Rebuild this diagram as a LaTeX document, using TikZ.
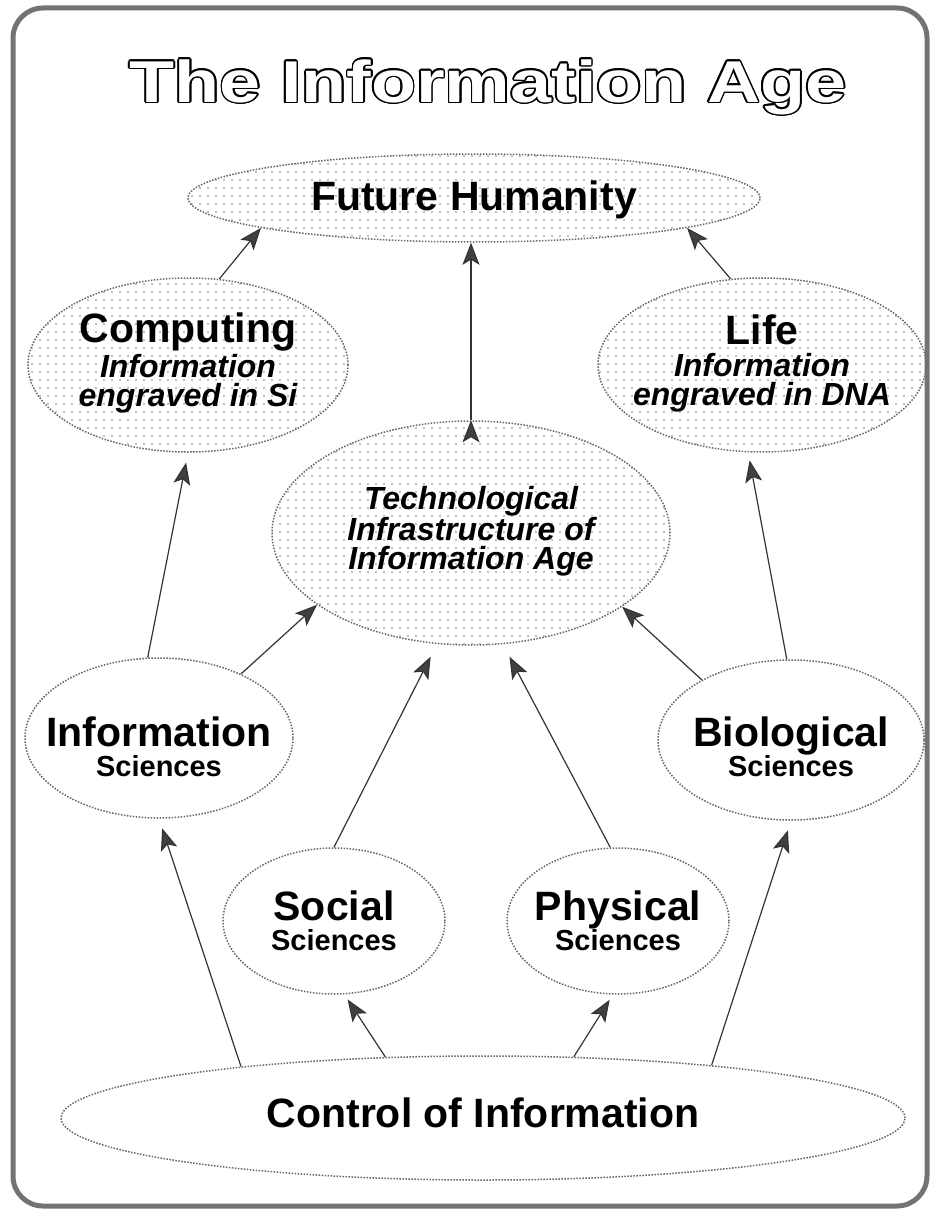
\documentclass[tikz,border=0pt]{standalone}
\usepackage{fontspec}
\setmainfont{Liberation Sans}
\newfontfamily\titlefont[FakeStretch=1.25]{Liberation Sans}
\usepackage{contour}
\contourlength{1.6pt}
\usetikzlibrary{shapes.geometric,arrows.meta,patterns.meta}

\newcommand{\bigtxt}{\fontsize{41}{44}\selectfont\bfseries\upshape}
\newcommand{\engtxt}{\fontsize{32}{29}\selectfont\bfseries\itshape}
\newcommand{\scitxt}{\fontsize{29}{30}\selectfont\bfseries}

\begin{document}
\begin{tikzpicture}[x=1pt,y=-1pt,
    bubble/.style={ellipse,draw=black!60,line width=1.5pt,dash pattern=on 1.5pt off 1.5pt,inner sep=0pt},
    dotty/.style={pattern={Dots[distance=8pt,radius=0.9pt]},pattern color=black!50},
    txt/.style={align=center,inner sep=0pt},
    link/.style={draw=black!80,line width=1.2pt,-{Stealth[length=22pt,width=17pt,inset=5pt,fill=black!75]}},
    frame/.style={draw=black!55,line width=5pt,rounded corners=30pt}
  ]
  \useasboundingbox (0,0) rectangle (934,1212);
  \draw[frame] (13,8) rectangle (927,1206);

  % title
  \node[font=\fontsize{59}{64}\selectfont\titlefont\bfseries] (title) at (488,88)
    {\contour{black}{\textcolor{white}{The Information Age}}};

  % bubbles
  \node[bubble,dotty,minimum width=572pt,minimum height=88pt] (future) at (474,198) {};
  \node[bubble,dotty,minimum width=320pt,minimum height=174pt] (comp) at (188,365) {};
  \node[bubble,dotty,minimum width=328pt,minimum height=174pt] (life) at (762,365) {};
  \node[bubble,dotty,minimum width=398pt,minimum height=224pt] (tech) at (471,533) {};
  \node[bubble,minimum width=268pt,minimum height=160pt] (info) at (159,738) {};
  \node[bubble,minimum width=266pt,minimum height=160pt] (bio) at (791,740) {};
  \node[bubble,minimum width=222pt,minimum height=146pt] (social) at (334,921) {};
  \node[bubble,minimum width=222pt,minimum height=146pt] (phys) at (618,921) {};
  \node[bubble,minimum width=844pt,minimum height=124pt] (ctrl) at (483,1118) {};

  % texts
  \node[txt,font=\bigtxt] (future-t) at (474,200) {Future Humanity};
  \node[txt,font=\engtxt] (comp-t) at (188,363) {{\bigtxt Computing}\\[3pt]Information\\engraved in Si};
  \node[txt,font=\engtxt] (life-t) at (762,363) {{\bigtxt Life}\\[3pt]Information\\engraved in DNA};
  \node[txt,font=\engtxt] (tech-t) at (471,531) {Technological\\Infrastructure of\\Information Age};
  \node[txt,font=\scitxt] (info-t) at (159,747) {{\bigtxt Information}\\Sciences};
  \node[txt,font=\scitxt] (bio-t) at (791,747) {{\bigtxt Biological}\\Sciences};
  \node[txt,font=\scitxt] (social-t) at (334,921) {{\bigtxt Social}\\Sciences};
  \node[txt,font=\scitxt] (phys-t) at (618,921) {{\bigtxt Physical}\\Sciences};
  \node[txt,font=\bigtxt] (ctrl-t) at (483,1113) {Control of Information};

  % arrows
  \path[link]
    (ctrl.168) edge[shorten >=10pt] (info.south)
    (ctrl.148) edge[shorten >=6pt] (social.278)
    (ctrl.34) edge[shorten >=6pt] (phys.266)
    (ctrl.13) edge[shorten >=10pt] (bio.south)
    (info.98) edge[shorten >=10pt] (comp.south)
    (info.38) edge (tech.205)
    (social.north) edge[shorten >=14pt] (tech.253)
    (phys.96) edge[shorten >=14pt] (tech.286)
    (bio.146) edge (tech.334)
    (bio.93) edge[shorten >=8pt] (life.261)
    (comp.70) edge (future.188)
    (life.110) edge (future.352)
    (tech.north) edge (tech.north |- future.south);
\end{tikzpicture}
\end{document}
